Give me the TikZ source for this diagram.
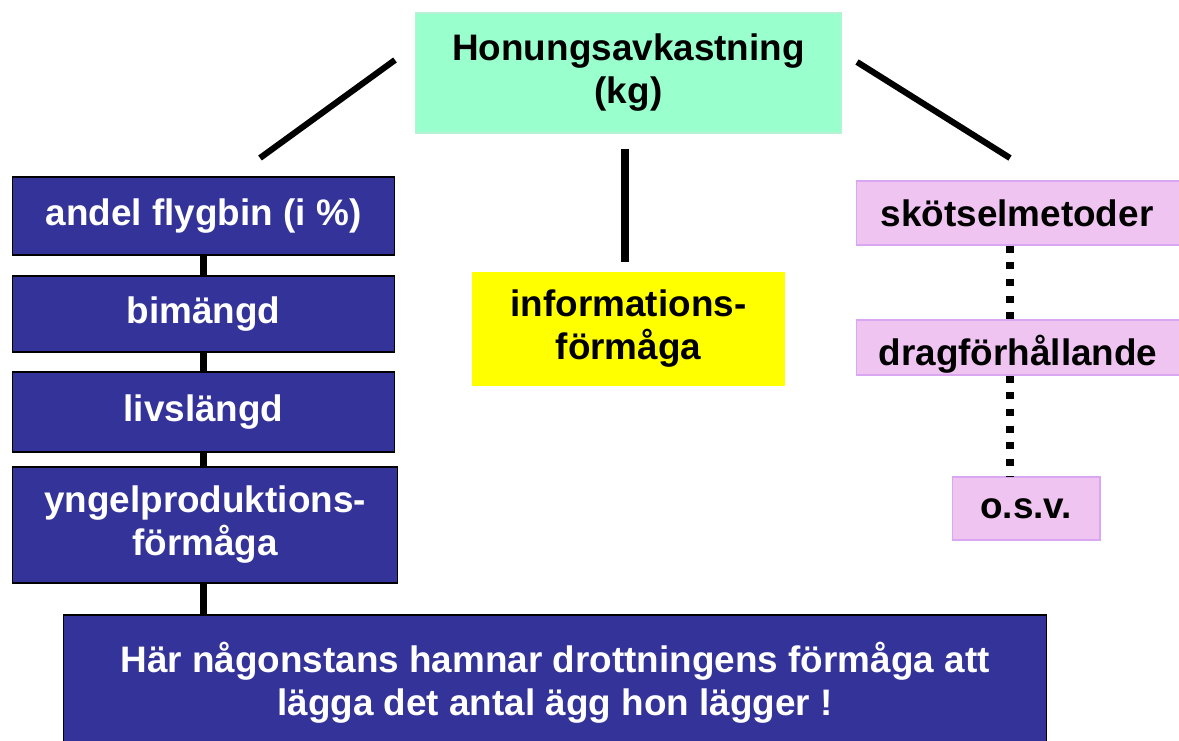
\documentclass[tikz,border=0pt]{standalone}
\usepackage{fontspec}
\setmainfont{Liberation Sans}
\definecolor{honeygreen}{HTML}{99FFCC}
\definecolor{honeyedge}{HTML}{B8F2D4}
\definecolor{beeblue}{HTML}{333399}
\definecolor{infoyellow}{HTML}{FFFF00}
\definecolor{carepink}{HTML}{F0C4F0}
\definecolor{careedge}{HTML}{D9A6F2}
\tikzset{
  box/.style={inner sep=0pt, align=center, font=\fontsize{21}{24.5}\selectfont\bfseries},
  topbox/.style={box, fill=honeygreen, draw=honeyedge, line width=0.6pt},
  beebox/.style={box, fill=beeblue, draw=black, line width=0.6pt, text=white},
  infobox/.style={box, fill=infoyellow},
  carebox/.style={box, fill=carepink, draw=careedge, line width=0.6pt},
  link/.style={line width=3.5pt},
  stem/.style={line width=4.5pt},
  dotlink/.style={line width=4.5pt, dash pattern=on 4pt off 5.5pt}
}

\begin{document}
\begin{tikzpicture}[x=0.02cm, y=-0.02cm]
\useasboundingbox (0,0) rectangle (1179,740);

\node[topbox, minimum width=8.54cm, minimum height=2.4cm] (honung) at (628.5,73) {Honungsavkastning\\(kg)};

\node[beebox, minimum width=7.66cm, minimum height=1.56cm] (flygbin) at (203.5,216) {andel flygbin (i \%)};
\node[beebox, minimum width=7.66cm, minimum height=1.52cm] (bimangd) at (203.5,314) {bimängd};
\node[beebox, minimum width=7.66cm, minimum height=1.6cm] (livslangd) at (203.5,412) {livslängd};
\node[beebox, minimum width=7.72cm, minimum height=2.32cm] (yngel) at (205,525) {yngelproduktions-\\förmåga};
\node[beebox, minimum width=19.68cm, minimum height=2.7cm] (drottning) at (555,682.5) {Här någonstans hamnar drottningens förmåga att\\lägga det antal ägg hon lägger !};

\node[infobox, minimum width=6.26cm, minimum height=2.28cm] (info) at (628.5,329) {informations-\\förmåga};

% the pink boxes run off the right edge
\node[carebox, minimum width=6.68cm, minimum height=1.28cm] (skotsel) at (1023,213) {\hspace*{-0.24cm}skötselmetoder};
\node[carebox, minimum width=6.68cm, minimum height=1.1cm,
  path picture={\node[box, anchor=base] at ([xshift=-0.1cm, yshift=-0.35cm]path picture bounding box.center) {dragförhållande};}] (drag) at (1023,347.5) {};
\node[carebox, minimum width=2.96cm, minimum height=1.26cm] (osv) at (1026,508.5) {o.s.v.};

\coordinate (lefttop) at (395,60);
\coordinate (leftend) at (260,158);
\coordinate (righttop) at (857,62);
\coordinate (rightend) at (1010,158);

\draw[link] (lefttop) -- (leftend);
\draw[link] (righttop) -- (rightend);
\draw[stem, shorten <=0.3cm, shorten >=0.2cm] (honung.south -| 625,0) -- (info.north -| 625,0);

\draw[stem] (flygbin.south) -- (bimangd.north);
\draw[stem] (bimangd.south) -- (livslangd.north);
\draw[stem] (livslangd.south) -- (livslangd.south |- yngel.north);
\draw[stem] (livslangd.south |- yngel.south) -- (livslangd.south |- drottning.north);

\draw[dotlink] (rightend |- skotsel.south) -- (rightend |- drag.north);
\draw[dotlink] (rightend |- drag.south) -- (rightend |- osv.north);
\end{tikzpicture}
\end{document}
